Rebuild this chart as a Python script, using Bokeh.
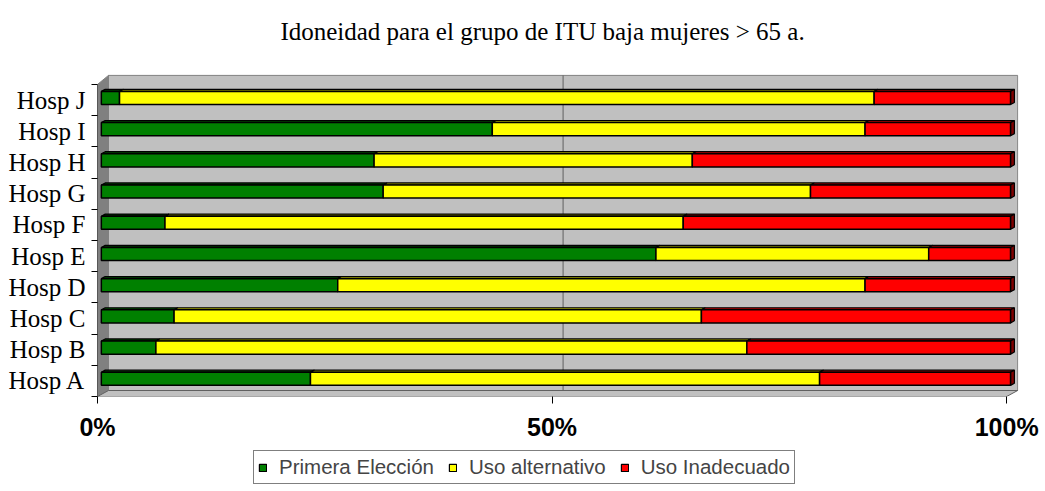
from bokeh.plotting import figure
from bokeh.layouts import column
from bokeh.models import (ColumnDataSource, FixedTicker, Legend, LegendItem,
                          Range1d)
from bokeh.core.properties import value
from bokeh.embed import file_html
from bokeh.resources import INLINE

# ---------------- data ----------------
categories = ["Hosp A", "Hosp B", "Hosp C", "Hosp D", "Hosp E",
              "Hosp F", "Hosp G", "Hosp H", "Hosp I", "Hosp J"]
series_names = ["Primera Elección", "Uso alternativo", "Uso Inadecuado"]
primera = [23, 6, 8, 26, 61, 7, 31, 30, 43, 2]
alternativo = [56, 65, 58, 58, 30, 57, 47, 35, 41, 83]
inadecuado = [21, 29, 34, 16, 9, 36, 22, 35, 16, 15]
x_ticks = [0, 50, 100]
x_tick_labels = ["0%", "50%", "100%"]
title_text = "Idoneidad para el grupo de ITU baja mujeres > 65 a."

# ---------------- style ----------------
front_colors = ["#008000", "#FFFF00", "#FF0000"]
top_colors = ["#004000", "#A0A000", "#B00000"]
side_color = "#800000"
wall_color = "#C0C0C0"
side_wall_color = "#808080"
edge_gray = "#808080"

DX = 1.21      # full depth, in % units
DY = 0.192     # full depth, in category units
D0, D1 = 0.35, 0.70
H = 0.42
Y_TOP = 9.79   # top of the back wall
Y_END = 12.19  # top of the drawing area (title lives above the wall)
TITLE_X, TITLE_Y = 48.95, 11.2

series = [primera, alternativo, inadecuado]
n = len(categories)
totals = [sum(s[i] for s in series) for i in range(n)]

p = figure(frame_width=921, frame_height=396, output_backend="svg",
           toolbar_location=None,
           x_range=Range1d(0, 101.3), y_range=Range1d(-0.5, Y_END),
           min_border_left=97, min_border_right=27, min_border_top=0,
           min_border_bottom=50)
p.outline_line_color = None
p.xgrid.visible = False
p.ygrid.visible = False
p.background_fill_color = "white"
p.border_fill_color = "white"

# title
p.text(x=[TITLE_X], y=[TITLE_Y], text=[title_text],
       text_font=value("Liberation Serif"), text_font_size="25px",
       text_align="center", text_baseline="alphabetic", text_color="black")

# walls
p.quad(left=[DX], right=[100 + DX], bottom=[-0.5 + DY], top=[Y_TOP],
       fill_color=wall_color, line_color=edge_gray, line_width=1)
p.segment(x0=[50 + DX], y0=[-0.5 + DY], x1=[50 + DX], y1=[Y_TOP],
          line_color="#606060", line_width=1)
p.patch(x=[0, 0, DX, DX], y=[-0.5, 9.5, Y_TOP, -0.5 + DY],
        fill_color=side_wall_color, line_color=edge_gray, line_width=1)
p.patch(x=[0, 100, 100 + DX, DX], y=[-0.5, -0.5, -0.5 + DY, -0.5 + DY],
        fill_color=wall_color, line_color="#606060", line_width=1)
p.segment(x0=[0], y0=[-0.5], x1=[0], y1=[9.5], line_color="black", line_width=1)

# bars
cum = [0.0] * n
for k, vals in enumerate(series):
    lefts, rights = [], []
    for i in range(n):
        l = cum[i]
        r = cum[i] + 100.0 * vals[i] / totals[i]
        lefts.append(l)
        rights.append(r)
        cum[i] = r
    ys_c = list(range(n))
    top_xs = [[l + D0 * DX, r + D0 * DX, r + D1 * DX, l + D1 * DX]
              for l, r in zip(lefts, rights)]
    top_ys = [[c + H / 2 + D0 * DY, c + H / 2 + D0 * DY,
               c + H / 2 + D1 * DY, c + H / 2 + D1 * DY] for c in ys_c]
    p.patches(xs=top_xs, ys=top_ys, fill_color=top_colors[k],
              line_color="black", line_width=1.2)
    if k == len(series) - 1:
        side_xs = [[r + D0 * DX, r + D1 * DX, r + D1 * DX, r + D0 * DX]
                   for r in rights]
        side_ys = [[c - H / 2 + D0 * DY, c - H / 2 + D1 * DY,
                    c + H / 2 + D1 * DY, c + H / 2 + D0 * DY] for c in ys_c]
        p.patches(xs=side_xs, ys=side_ys, fill_color=side_color,
                  line_color="black", line_width=1.2)
    src = ColumnDataSource(dict(
        left=[l + D0 * DX for l in lefts],
        right=[r + D0 * DX for r in rights],
        bottom=[c - H / 2 + D0 * DY for c in ys_c],
        top=[c + H / 2 + D0 * DY for c in ys_c]))
    p.quad(left="left", right="right", bottom="bottom", top="top",
           source=src, fill_color=front_colors[k], line_color="black",
           line_width=1.5)

# axes
p.xaxis.ticker = FixedTicker(ticks=x_ticks)
p.xaxis.major_label_overrides = {t: lab for t, lab in zip(x_ticks, x_tick_labels)}
p.xaxis.axis_line_color = None
p.xaxis.major_tick_out = 7
p.xaxis.major_tick_in = 0
p.xaxis.minor_tick_line_color = None
p.xaxis.major_tick_line_color = "black"
p.xaxis.major_label_text_font = "Liberation Sans"
p.xaxis.major_label_text_font_size = "25px"
p.xaxis.major_label_text_font_style = "bold"
p.xaxis.major_label_text_color = "black"
p.xaxis.major_label_standoff = 9

p.yaxis.ticker = FixedTicker(ticks=list(range(n)),
                             minor_ticks=[i - 0.5 for i in range(n + 1)])
p.yaxis.major_label_overrides = {i: c for i, c in enumerate(categories)}
p.yaxis.axis_line_color = None
p.yaxis.major_tick_out = 0
p.yaxis.major_tick_in = 0
p.yaxis.minor_tick_out = 6
p.yaxis.minor_tick_in = 0
p.yaxis.minor_tick_line_color = "black"
p.yaxis.major_label_text_font = "Liberation Serif"
p.yaxis.major_label_text_font_size = "25px"
p.yaxis.major_label_text_color = "black"
p.yaxis.major_label_standoff = 6

# legend strip underneath (swatch renderers sit outside the visible range)
pl = figure(frame_width=1045, frame_height=40, output_backend="svg",
            toolbar_location=None, x_axis_location=None, y_axis_location=None,
            x_range=Range1d(0, 1), y_range=Range1d(0, 1),
            min_border_left=0, min_border_right=0, min_border_top=0,
            min_border_bottom=0)
pl.outline_line_color = None
pl.xgrid.visible = False
pl.ygrid.visible = False
leg_renderers = [pl.quad(left=[5], right=[6], bottom=[5], top=[6],
                         fill_color=c, line_color="black", line_width=1.2)
                 for c in front_colors]
legend = Legend(items=[LegendItem(label=nm, renderers=[r])
                       for nm, r in zip(series_names, leg_renderers)],
                orientation="horizontal", location=(253, 2),
                label_text_font="Liberation Sans", label_text_font_size="20.5px",
                glyph_width=9, glyph_height=9, label_standoff=12, spacing=14,
                padding=4, margin=0, border_line_color="black",
                border_line_width=1, background_fill_color="white",
                background_fill_alpha=1.0)
pl.add_layout(legend, "center")

layout = column(p, pl, spacing=0)
open("out.html", "w").write(file_html(layout, INLINE))
